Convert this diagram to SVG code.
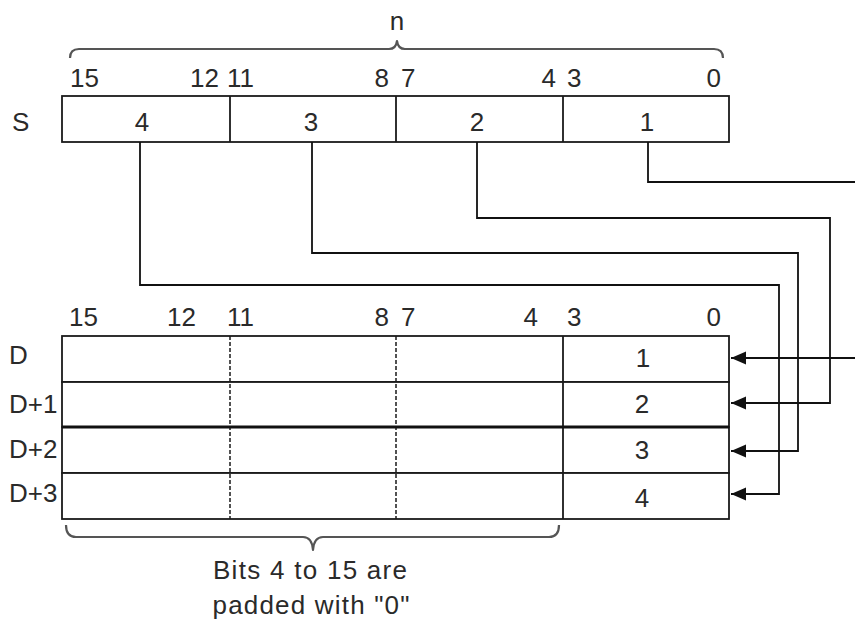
<svg xmlns="http://www.w3.org/2000/svg" width="855" height="620" viewBox="0 0 855 620">
<defs>
<style>
.t{font-family:"Liberation Sans",Arial,sans-serif;font-size:26px;fill:#2a2a2a}
.m{text-anchor:middle}
.e{text-anchor:end}
.box{fill:#fff;stroke:#1a1a1a;stroke-width:1.8}
.ln{stroke:#1a1a1a;stroke-width:1.8;fill:none}
.dash{stroke:#1a1a1a;stroke-width:1.5;stroke-dasharray:4 2;fill:none}
.brace{stroke:#555;stroke-width:2.2;fill:none;stroke-linejoin:round}
.conn{stroke:#111;stroke-width:1.8;fill:none}
</style>
<marker id="arr" markerUnits="userSpaceOnUse" markerWidth="16" markerHeight="14" refX="15" refY="6.5" orient="auto">
<path d="M0,0 L15,6.5 L0,13 z" fill="#111"/>
</marker>
</defs>
<rect width="855" height="620" fill="#fff"/>

<!-- top brace and n -->
<g id="brace-n">
<path class="brace" d="M70,58 Q70,49 79,49 L389,49 Q396,49 397,41 Q398,49 405,49 L714,49 Q723,49 723,58"/>
<text class="t m" x="397" y="30">n</text>
</g>

<!-- S bit labels -->
<g id="S-bits">
<text class="t" x="70" y="87">15</text>
<text class="t e" x="219" y="87">12</text>
<text class="t" x="227" y="87">11</text>
<text class="t e" x="389" y="87">8</text>
<text class="t" x="401" y="87">7</text>
<text class="t e" x="556" y="87">4</text>
<text class="t" x="567" y="87">3</text>
<text class="t e" x="721" y="87">0</text>
</g>

<g id="S">
<text class="t" x="12" y="131">S</text>
<rect class="box" x="62" y="96" width="667" height="46"/>
<line class="ln" x1="230" y1="96" x2="230" y2="142"/>
<line class="ln" x1="396" y1="96" x2="396" y2="142"/>
<line class="ln" x1="563" y1="96" x2="563" y2="142"/>
<text class="t m" x="142" y="131">4</text>
<text class="t m" x="311" y="131">3</text>
<text class="t m" x="477" y="131">2</text>
<text class="t m" x="647" y="131">1</text>
</g>

<!-- D bit labels -->
<g id="D-bits">
<text class="t" x="69" y="326">15</text>
<text class="t e" x="196" y="326">12</text>
<text class="t" x="227" y="326">11</text>
<text class="t e" x="389" y="326">8</text>
<text class="t" x="401" y="326">7</text>
<text class="t e" x="538" y="326">4</text>
<text class="t" x="567" y="326">3</text>
<text class="t e" x="721" y="326">0</text>
</g>

<g id="D">
<rect class="box" x="62" y="336" width="667" height="46"/>
<text class="t" x="9" y="364">D</text>
<text class="t m" x="643" y="367">1</text>
</g>
<g id="D1">
<rect class="box" x="62" y="382" width="667" height="45"/>
<text class="t" x="9" y="413">D+1</text>
<text class="t m" x="642" y="413">2</text>
</g>
<g id="D2">
<rect class="box" x="62" y="427" width="667" height="46"/>
<text class="t" x="9" y="458">D+2</text>
<text class="t m" x="642" y="459">3</text>
</g>
<g id="D3">
<rect class="box" x="62" y="473" width="667" height="46"/>
<text class="t" x="9" y="502">D+3</text>
<text class="t m" x="642" y="507">4</text>
</g>
<g id="D-grid">
<line class="dash" x1="230" y1="336" x2="230" y2="519"/>
<line class="dash" x1="396" y1="336" x2="396" y2="519"/>
<line class="ln" x1="563" y1="336" x2="563" y2="519"/>
<line x1="62" y1="427" x2="729" y2="427" stroke="#111" stroke-width="3.2"/>
</g>

<g id="connectors">
<path class="conn" d="M648,142 V182 H870 V358 H731" marker-end="url(#arr)"/>
<path class="conn" d="M477,142 V218 H830 V403 H731" marker-end="url(#arr)"/>
<path class="conn" d="M312,142 V253 H798 V451 H731" marker-end="url(#arr)"/>
<path class="conn" d="M140,142 V285 H779 V494 H731" marker-end="url(#arr)"/>
</g>

<!-- bottom brace and note -->
<g id="brace-note">
<path class="brace" d="M66,525 Q66,537 76,537 L303,537 Q312,537 313,550 Q314,537 323,537 L549,537 Q559,537 559,525"/>
<text class="t m" x="310" y="579" textLength="194" lengthAdjust="spacing">Bits 4 to 15 are</text>
<text class="t m" x="311" y="614" textLength="197" lengthAdjust="spacing">padded with "0"</text>
</g>
</svg>
